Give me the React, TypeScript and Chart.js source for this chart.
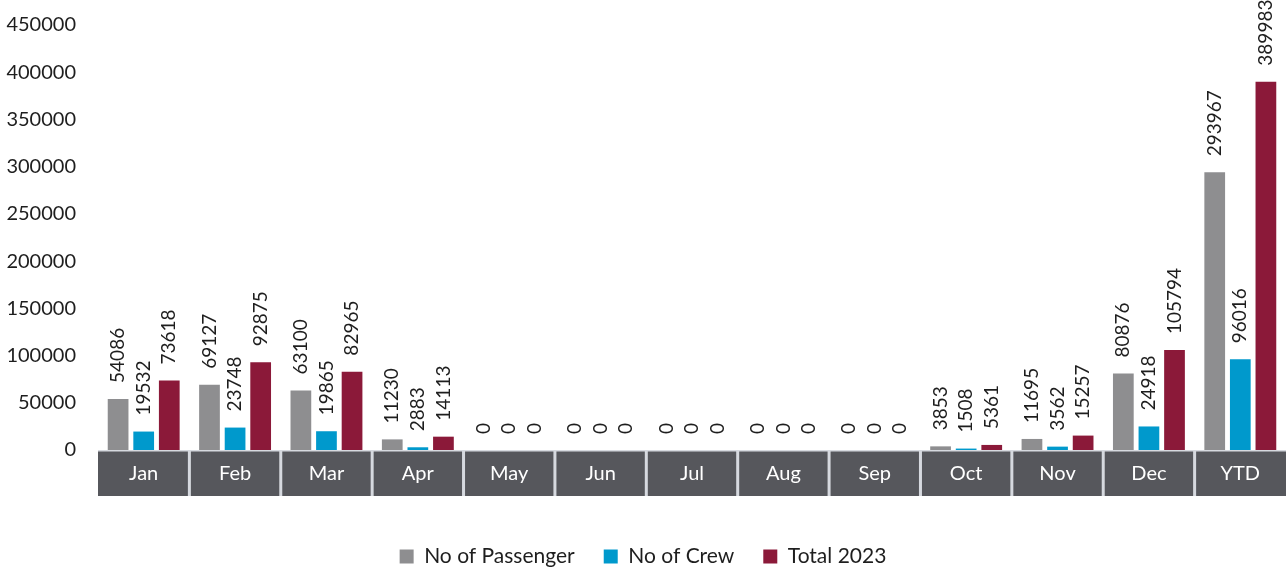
import React, { useEffect, useRef } from "react";
import { Chart, registerables } from "chart.js";

Chart.register(...registerables);

const categories = ["Jan", "Feb", "Mar", "Apr", "May", "Jun", "Jul", "Aug", "Sep", "Oct", "Nov", "Dec", "YTD"];
const passengers = [54086, 69127, 63100, 11230, 0, 0, 0, 0, 0, 3853, 11695, 80876, 293967];
const crew = [19532, 23748, 19865, 2883, 0, 0, 0, 0, 0, 1508, 3562, 24918, 96016];
const total = [73618, 92875, 82965, 14113, 0, 0, 0, 0, 0, 5361, 15257, 105794, 389983];
const seriesNames = ["No of Passenger", "No of Crew", "Total 2023"];
const seriesColors = ["#8E8E90", "#0099CC", "#8B1939"];
const yMax = 450000;
const yStep = 50000;

const FONT = "Lato, 'Open Sans', sans-serif";

const categoryBand = {
  id: "categoryBand",
  afterDraw(chart: any) {
    const { ctx, chartArea, scales } = chart;
    const x = scales.x;
    const top = chartArea.bottom;
    const h = 46;
    const n = categories.length;
    const w = (chartArea.right - chartArea.left) / n;
    ctx.save();
    ctx.fillStyle = "#56575C";
    ctx.fillRect(chartArea.left, top, chartArea.right - chartArea.left, h);
    ctx.fillStyle = "#D6D9DF";
    ctx.fillRect(chartArea.left, top, chartArea.right - chartArea.left, 1.5);
    for (let i = 1; i < n; i++) {
      const bx = chartArea.left + i * w;
      ctx.fillRect(bx - 1.5, top, 3, h);
    }
    ctx.fillStyle = "#FFFFFF";
    ctx.font = `20px ${FONT}`;
    ctx.textAlign = "center";
    ctx.textBaseline = "middle";
    categories.forEach((c, i) => {
      ctx.fillText(c, x.getPixelForValue(i), top + 24);
    });
    ctx.restore();
  },
};

const barLabels = {
  id: "barLabels",
  afterDatasetsDraw(chart: any) {
    const { ctx } = chart;
    ctx.save();
    ctx.font = `19px ${FONT}`;
    ctx.fillStyle = "#1E1E1E";
    ctx.textAlign = "left";
    ctx.textBaseline = "middle";
    chart.data.datasets.forEach((ds: any, di: number) => {
      const meta = chart.getDatasetMeta(di);
      meta.data.forEach((el: any, i: number) => {
        ctx.save();
        ctx.translate(el.x, el.y - 16);
        ctx.rotate(-Math.PI / 2);
        ctx.fillText(String(ds.data[i]), 0, 0);
        ctx.restore();
      });
    });
    ctx.restore();
  },
};

export default function App() {
  const ref = useRef<HTMLCanvasElement | null>(null);
  useEffect(() => {
    document.body.style.margin = "0";
    const canvas = ref.current;
    if (!canvas) return;
    const chart = new Chart(canvas, {
      type: "bar",
      data: {
        labels: categories,
        datasets: [passengers, crew, total].map((d, i) => ({
          label: seriesNames[i],
          data: d,
          backgroundColor: seriesColors[i],
          borderWidth: 0,
          categoryPercentage: 0.84,
          barPercentage: 0.81,
        })),
      },
      options: {
        animation: false,
        responsive: true,
        maintainAspectRatio: false,
        layout: { padding: { top: 25, left: 0, right: 0, bottom: -6 } },
        plugins: {
          tooltip: { enabled: false },
          legend: {
            position: "bottom",
            labels: {
              boxWidth: 14,
              boxHeight: 14,
              padding: 29,
              color: "#1E1E1E",
              font: { family: FONT, size: 21 },
            },
          },
        },
        scales: {
          x: {
            grid: { display: false, drawTicks: false },
            border: { display: false },
            ticks: { display: false },
            afterFit: (s: any) => {
              s.height = 67;
            },
          },
          y: {
            min: 0,
            max: yMax,
            grid: { display: false, drawTicks: false },
            border: { display: false },
            ticks: {
              stepSize: yStep,
              padding: 22,
              color: "#1E1E1E",
              font: { family: FONT, size: 20 },
              callback: (v: any) => String(v),
            },
            afterFit: (s: any) => {
              s.width = 98;
              s.paddingTop = 0;
              s.paddingBottom = 0;
            },
          },
        },
      },
      plugins: [categoryBand, barLabels],
    });
    return () => chart.destroy();
  }, []);
  return (
    <div style={{ width: 1286, height: 571, position: "relative" }}>
      <canvas ref={ref} />
    </div>
  );
}
